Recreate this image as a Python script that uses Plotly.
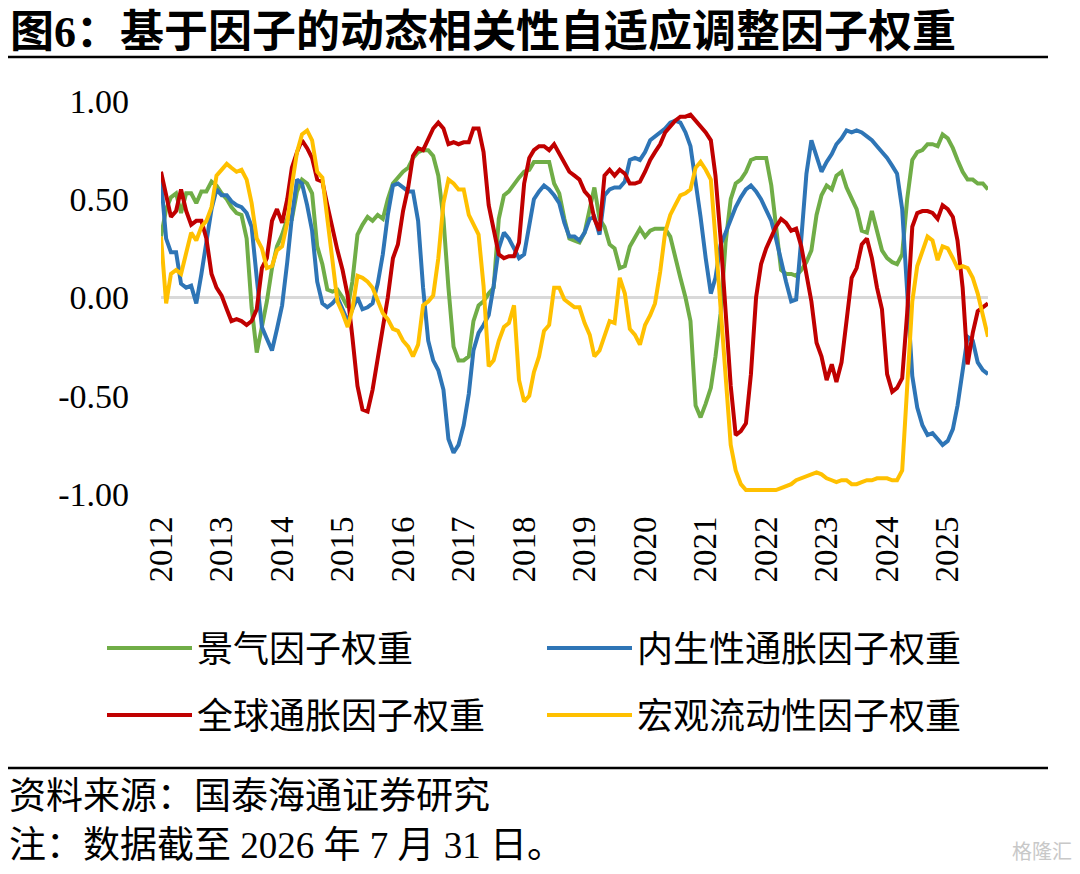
import pandas as pd
import plotly.graph_objects as go

# monthly observations, Jan 2012 .. Sep 2025
months = pd.date_range("2012-01-01", periods=165, freq="MS")
years = list(range(2012, 2026))

y_ticks = [-1.0, -0.5, 0.0, 0.5, 1.0]
y_ticktext = ["-1.00", "-0.50", "0.00", "0.50", "1.00"]

# 景气因子权重
jingqi = [
    0.31, 0.45, 0.51, 0.53, 0.43, 0.53, 0.53, 0.48, 0.54, 0.54, 0.59, 0.57,
    0.53, 0.50, 0.46, 0.43, 0.42, 0.30, -0.05, -0.28, -0.15, -0.02, 0.15, 0.26,
    0.32, 0.40, 0.40, 0.54, 0.60, 0.58, 0.53, 0.26, 0.17, 0.04, 0.03, 0.04,
    0.00, -0.05, 0.08, 0.32, 0.37, 0.41, 0.39, 0.42, 0.40, 0.50, 0.58, 0.61,
    0.64, 0.66, 0.71, 0.74, 0.75, 0.75, 0.72, 0.62, 0.40, 0.05, -0.25, -0.32,
    -0.32, -0.30, -0.12, -0.04, -0.02, 0.02, 0.05, 0.40, 0.52, 0.54, 0.58, 0.61,
    0.64, 0.65, 0.69, 0.69, 0.69, 0.69, 0.58, 0.53, 0.40, 0.30, 0.29, 0.28,
    0.33, 0.46, 0.56, 0.40, 0.36, 0.27, 0.25, 0.15, 0.16, 0.26, 0.31, 0.35,
    0.31, 0.34, 0.35, 0.35, 0.35, 0.31, 0.20, 0.10, 0.00, -0.12, -0.55, -0.61,
    -0.54, -0.46, -0.30, -0.08, 0.28, 0.50, 0.58, 0.60, 0.64, 0.70, 0.71, 0.71,
    0.71, 0.57, 0.36, 0.14, 0.12, 0.12, 0.11, 0.14, 0.18, 0.24, 0.42, 0.52,
    0.57, 0.55, 0.62, 0.64, 0.56, 0.50, 0.45, 0.34, 0.33, 0.44, 0.33, 0.24,
    0.20, 0.18, 0.17, 0.22, 0.50, 0.70, 0.74, 0.75, 0.78, 0.78, 0.77, 0.83,
    0.81, 0.76, 0.70, 0.64, 0.60, 0.60, 0.58, 0.58, 0.55,
]

# 内生性通胀因子权重
neisheng = [
    0.60, 0.30, 0.23, 0.23, 0.07, 0.05, 0.06, -0.03, 0.12, 0.30, 0.45, 0.55,
    0.52, 0.52, 0.49, 0.47, 0.46, 0.43, 0.36, 0.10, -0.15, -0.21, -0.27, -0.16,
    -0.04, 0.18, 0.41, 0.60, 0.58, 0.47, 0.34, 0.08, -0.03, -0.05, -0.03, 0.00,
    -0.06, -0.12, -0.06, 0.00, -0.06, -0.05, -0.03, 0.07, 0.22, 0.42, 0.57, 0.58,
    0.56, 0.54, 0.54, 0.39, 0.05, -0.22, -0.32, -0.37, -0.47, -0.72, -0.79, -0.75,
    -0.65, -0.49, -0.27, -0.18, -0.14, -0.09, 0.06, 0.25, 0.33, 0.30, 0.25, 0.20,
    0.22, 0.38, 0.50, 0.54, 0.57, 0.55, 0.52, 0.48, 0.38, 0.31, 0.31, 0.29,
    0.33, 0.40, 0.41, 0.32, 0.52, 0.55, 0.56, 0.56, 0.59, 0.70, 0.71, 0.70,
    0.74, 0.80, 0.82, 0.84, 0.86, 0.89, 0.90, 0.89, 0.84, 0.77, 0.60, 0.41,
    0.20, 0.02, 0.10, 0.27, 0.33, 0.40, 0.46, 0.51, 0.55, 0.57, 0.54, 0.50,
    0.45, 0.39, 0.30, 0.18, 0.08, -0.02, -0.01, 0.30, 0.63, 0.80, 0.71, 0.64,
    0.69, 0.73, 0.78, 0.81, 0.85, 0.84, 0.85, 0.84, 0.82, 0.80, 0.77, 0.74,
    0.71, 0.67, 0.63, 0.45, 0.00, -0.40, -0.56, -0.65, -0.70, -0.69, -0.72, -0.75,
    -0.73, -0.67, -0.55, -0.37, -0.20, -0.22, -0.33, -0.37, -0.39,
]

# 全球通胀因子权重
quanqiu = [
    0.64, 0.53, 0.41, 0.44, 0.55, 0.44, 0.37, 0.39, 0.39, 0.30, 0.12, 0.05,
    0.01, -0.06, -0.12, -0.11, -0.12, -0.14, -0.12, -0.06, 0.15, 0.20, 0.39, 0.45,
    0.38, 0.50, 0.66, 0.74, 0.80, 0.76, 0.71, 0.60, 0.59, 0.47, 0.35, 0.24,
    0.14, 0.01, -0.20, -0.45, -0.57, -0.58, -0.47, -0.32, -0.17, 0.00, 0.20, 0.27,
    0.44, 0.56, 0.72, 0.76, 0.75, 0.81, 0.86, 0.89, 0.86, 0.78, 0.79, 0.78,
    0.79, 0.79, 0.86, 0.86, 0.74, 0.47, 0.34, 0.22, 0.20, 0.21, 0.21, 0.28,
    0.58, 0.71, 0.75, 0.77, 0.77, 0.75, 0.78, 0.73, 0.68, 0.64, 0.62, 0.60,
    0.54, 0.51, 0.40, 0.34, 0.62, 0.65, 0.62, 0.65, 0.63, 0.58, 0.58, 0.59,
    0.64, 0.70, 0.74, 0.78, 0.84, 0.87, 0.90, 0.92, 0.92, 0.93, 0.90, 0.87,
    0.84, 0.80, 0.62, 0.30, -0.10, -0.45, -0.70, -0.68, -0.64, -0.39, 0.00, 0.17,
    0.25, 0.31, 0.36, 0.40, 0.38, 0.34, 0.35, 0.26, 0.11, -0.02, -0.23, -0.30,
    -0.42, -0.34, -0.43, -0.33, -0.12, 0.10, 0.15, 0.27, 0.30, 0.20, 0.05, -0.06,
    -0.39, -0.48, -0.46, -0.41, -0.08, 0.36, 0.43, 0.44, 0.44, 0.43, 0.40, 0.47,
    0.45, 0.41, 0.29, 0.05, -0.34, -0.18, -0.07, -0.05, -0.03,
]

# 宏观流动性因子权重
liudong = [
    0.31, -0.03, 0.12, 0.14, 0.12, 0.22, 0.33, 0.29, 0.36, 0.39, 0.46, 0.62,
    0.65, 0.68, 0.66, 0.64, 0.65, 0.60, 0.48, 0.30, 0.25, 0.15, 0.16, 0.24,
    0.26, 0.38, 0.57, 0.74, 0.83, 0.85, 0.80, 0.64, 0.61, 0.39, 0.18, -0.02,
    -0.08, -0.15, -0.06, 0.11, 0.10, 0.08, 0.05, -0.01, -0.08, -0.11, -0.16, -0.17,
    -0.22, -0.25, -0.30, -0.24, -0.04, -0.02, 0.01, 0.20, 0.48, 0.60, 0.58, 0.55,
    0.55, 0.42, 0.37, 0.32, 0.06, -0.35, -0.32, -0.22, -0.15, -0.13, -0.04, -0.42,
    -0.53, -0.50, -0.38, -0.30, -0.17, -0.14, 0.05, 0.05, -0.01, -0.03, -0.05, -0.05,
    -0.13, -0.19, -0.30, -0.27, -0.20, -0.12, -0.13, 0.10, 0.02, -0.16, -0.19, -0.24,
    -0.14, -0.09, -0.03, 0.13, 0.33, 0.42, 0.47, 0.52, 0.53, 0.55, 0.66, 0.69,
    0.65, 0.60, 0.30, -0.05, -0.40, -0.75, -0.88, -0.95, -0.98, -0.98, -0.98, -0.98,
    -0.98, -0.98, -0.98, -0.97, -0.96, -0.95, -0.93, -0.92, -0.91, -0.90, -0.89, -0.90,
    -0.92, -0.93, -0.94, -0.93, -0.93, -0.95, -0.95, -0.94, -0.93, -0.93, -0.92, -0.92,
    -0.92, -0.93, -0.93, -0.88, -0.45, -0.02, 0.16, 0.24, 0.31, 0.29, 0.19, 0.26,
    0.25, 0.20, 0.15, 0.16, 0.15, 0.10, 0.02, -0.09, -0.20,
]

# name, values, colour, legend slot
series = [
    ("景气因子权重", jingqi, "#70AD47", "legend"),
    ("内生性通胀因子权重", neisheng, "#2E75B6", "legend2"),
    ("全球通胀因子权重", quanqiu, "#C00000", "legend3"),
    ("宏观流动性因子权重", liudong, "#FFC000", "legend4"),
]

FONT = "Liberation Serif, Noto Sans CJK SC"
W, H = 1072, 866   # page body has an 8px margin


def px_x(p):
    # reference pixel -> paper coordinate
    return (p - 161) / 827


def px_y(p):
    return (494 - p) / 393


def cx(p):
    # reference pixel -> container coordinate
    return (p - 8) / W


def cy(p):
    return 1 - (p - 8) / H


fig = go.Figure()
for name, vals, color, leg in series:
    fig.add_trace(go.Scatter(x=months, y=vals, mode="lines", name=name,
                             line=dict(color=color, width=4), legend=leg,
                             showlegend=True))

legend_style = dict(orientation="h", xref="container", yref="container",
                    xanchor="left", yanchor="middle", itemwidth=85,
                    font=dict(family=FONT, size=36, color="black"),
                    bgcolor="rgba(0,0,0,0)")

fig.update_layout(
    width=W, height=H, showlegend=True,
    paper_bgcolor="white", plot_bgcolor="white",
    margin=dict(l=153, r=92, t=93, b=380, autoexpand=False),
    font=dict(family=FONT, color="black"),
    legend=dict(legend_style, x=cx(102), y=cy(648)),
    legend2=dict(legend_style, x=cx(542), y=cy(648)),
    legend3=dict(legend_style, x=cx(102), y=cy(715)),
    legend4=dict(legend_style, x=cx(542), y=cy(715)),
    xaxis=dict(type="date", range=[months[0], months[-1]],
               tickvals=[f"{y}-01-01" for y in years],
               ticktext=[str(y) for y in years],
               tickangle=-90, ticks="", showgrid=False, showline=False,
               zeroline=False, ticklabelstandoff=15,
               tickfont=dict(family=FONT, size=33, color="black")),
    yaxis=dict(range=[-1, 1], tickvals=y_ticks, ticktext=y_ticktext,
               ticks="", showgrid=False, showline=False,
               zeroline=True, zerolinecolor="#D9D9D9", zerolinewidth=3,
               ticklabelstandoff=31,
               tickfont=dict(family=FONT, size=34, color="black")),
)

# title, rules and footnotes
fig.add_shape(type="line", xref="paper", yref="paper",
              x0=px_x(8), x1=px_x(1048), y0=px_y(57), y1=px_y(57),
              line=dict(color="black", width=2.5))
fig.add_shape(type="line", xref="paper", yref="paper",
              x0=px_x(8), x1=px_x(1048), y0=px_y(768), y1=px_y(768),
              line=dict(color="black", width=2.5))

fig.add_annotation(text="<b>图6：基于因子的动态相关性自适应调整因子权重</b>",
                   xref="paper", yref="paper", x=px_x(8), y=px_y(32),
                   xanchor="left", yanchor="middle", showarrow=False,
                   font=dict(family=FONT, size=44, color="black"))
fig.add_annotation(text="资料来源：国泰海通证券研究",
                   xref="paper", yref="paper", x=px_x(7), y=px_y(797),
                   xanchor="left", yanchor="middle", showarrow=False,
                   font=dict(family=FONT, size=37, color="black"))
fig.add_annotation(text="注：数据截至 2026 年 7 月 31 日。",
                   xref="paper", yref="paper", x=px_x(7), y=px_y(845),
                   xanchor="left", yanchor="middle", showarrow=False,
                   font=dict(family=FONT, size=37, color="black"))
fig.add_annotation(text="格隆汇",
                   xref="paper", yref="paper", x=px_x(1074), y=px_y(852),
                   xanchor="right", yanchor="middle", showarrow=False,
                   font=dict(family=FONT, size=20, color="#C8C8C8"))

fig.write_html("out.html")
